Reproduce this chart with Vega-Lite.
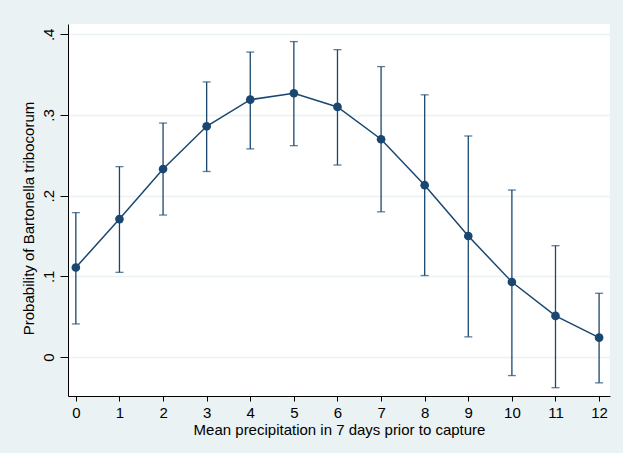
{
  "$schema": "https://vega.github.io/schema/vega-lite/v6.json",
  "autosize": {"type": "none"},
  "width": 542,
  "height": 372,
  "padding": {"left": 68, "top": 24, "right": 13, "bottom": 57},
  "background": "#EAF2F3",
  "config": {
    "view": {"stroke": null, "fill": "white"},
    "font": "Liberation Sans",
    "axis": {
      "domainColor": "#000000",
      "tickColor": "#000000",
      "labelColor": "#000000",
      "titleColor": "#000000",
      "labelFont": "Liberation Sans",
      "titleFont": "Liberation Sans",
      "labelFontSize": 15,
      "titleFontSize": 15,
      "titleFontWeight": "normal",
      "domainWidth": 1,
      "tickWidth": 1
    }
  },
  "data": {
    "values": [
      {"x": 0, "y": 0.111, "lo": 0.041, "hi": 0.179},
      {"x": 1, "y": 0.171, "lo": 0.105, "hi": 0.236},
      {"x": 2, "y": 0.233, "lo": 0.176, "hi": 0.290},
      {"x": 3, "y": 0.286, "lo": 0.230, "hi": 0.341},
      {"x": 4, "y": 0.319, "lo": 0.258, "hi": 0.378},
      {"x": 5, "y": 0.327, "lo": 0.262, "hi": 0.391},
      {"x": 6, "y": 0.310, "lo": 0.238, "hi": 0.381},
      {"x": 7, "y": 0.270, "lo": 0.180, "hi": 0.360},
      {"x": 8, "y": 0.213, "lo": 0.101, "hi": 0.325},
      {"x": 9, "y": 0.150, "lo": 0.025, "hi": 0.274},
      {"x": 10, "y": 0.093, "lo": -0.023, "hi": 0.207},
      {"x": 11, "y": 0.051, "lo": -0.038, "hi": 0.138},
      {"x": 12, "y": 0.024, "lo": -0.032, "hi": 0.079}
    ]
  },
  "encoding": {
    "x": {
      "field": "x",
      "type": "quantitative",
      "scale": {"domain": [-0.18, 12.25], "nice": false, "zero": false},
      "axis": {
        "title": "Mean precipitation in 7 days prior to capture",
        "values": [0, 1, 2, 3, 4, 5, 6, 7, 8, 9, 10, 11, 12],
        "grid": false,
        "tickSize": 5,
        "labelPadding": 4,
        "titlePadding": 2
      }
    }
  },
  "layer": [
    {
      "mark": {"type": "rule", "color": "#1a476f", "strokeWidth": 1.3},
      "encoding": {
        "y": {
          "field": "lo",
          "type": "quantitative",
          "scale": {"domain": [-0.0483, 0.4128], "nice": false, "zero": false},
          "axis": {
            "title": "Probability of Bartonella tribocorum",
            "values": [0, 0.1, 0.2, 0.3, 0.4],
            "labelExpr": "datum.value == 0 ? '0' : replace(format(datum.value, '.1f'), '0.', '.')",
            "labelAngle": 270,
            "labelAlign": "center",
            "labelBaseline": "bottom",
            "labelPadding": 4,
            "tickSize": 8,
            "grid": true,
            "gridColor": "#EAF2F3",
            "gridWidth": 1.5,
            "titlePadding": 5,
            "titleY": 194
          }
        },
        "y2": {"field": "hi"}
      }
    },
    {
      "mark": {"type": "tick", "orient": "horizontal", "color": "#1a476f", "size": 8, "thickness": 1.3},
      "encoding": {"y": {"field": "lo", "type": "quantitative"}}
    },
    {
      "mark": {"type": "tick", "orient": "horizontal", "color": "#1a476f", "size": 8, "thickness": 1.3},
      "encoding": {"y": {"field": "hi", "type": "quantitative"}}
    },
    {
      "mark": {"type": "line", "color": "#1a476f", "strokeWidth": 1.5},
      "encoding": {"y": {"field": "y", "type": "quantitative"}}
    },
    {
      "mark": {"type": "point", "filled": true, "color": "#1a476f", "size": 75, "opacity": 1},
      "encoding": {"y": {"field": "y", "type": "quantitative"}}
    }
  ]
}
